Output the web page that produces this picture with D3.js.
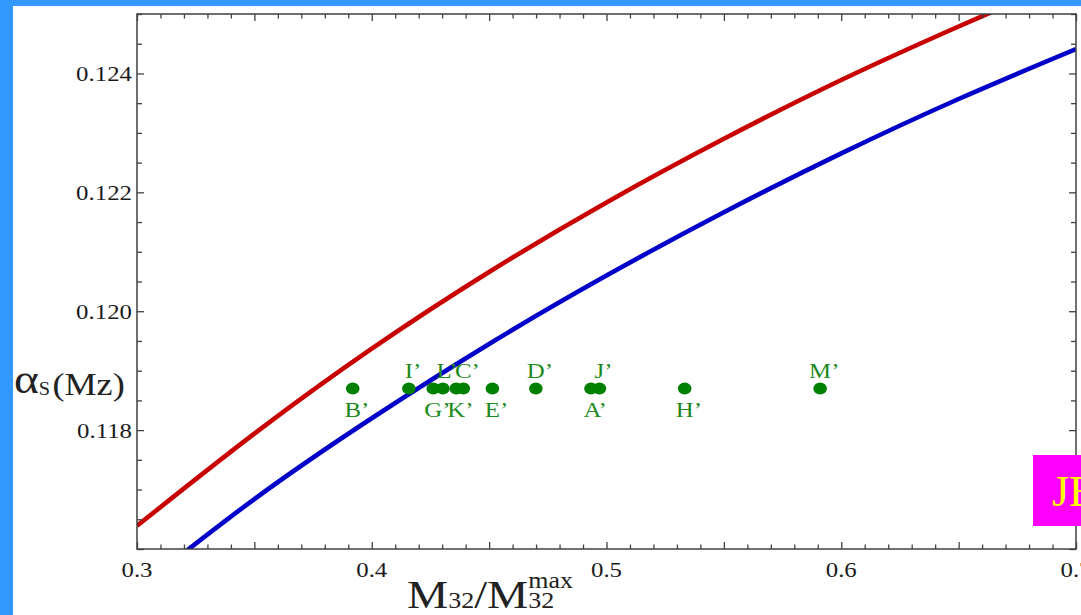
<!DOCTYPE html>
<html>
<head>
<meta charset="utf-8">
<script src="https://cdn.jsdelivr.net/npm/d3@7"></script>
<style>
  html, body { margin: 0; padding: 0; background: #fff; overflow: hidden; }
  svg { display: block; }
  text { font-family: "Liberation Serif", "Times New Roman", serif; }
</style>
</head>
<body>
<svg id="chart" width="1081" height="615"></svg>
<script>
// Curve samples: M32/M32max versus alpha_s(MZ)
const curveX = [0.30, 0.35, 0.40, 0.45, 0.50, 0.55, 0.60, 0.65, 0.70];
const redCurve = [0.11639, 0.11794, 0.11937, 0.12066, 0.12183, 0.12290, 0.12389, 0.12479, 0.12565];
const blueCurve = [0.115315, 0.11684, 0.11820, 0.11945, 0.12060, 0.121665, 0.122655, 0.12357, 0.12441];

// Benchmark points
const pointNames = ["B’", "I’", "G’", "L’", "K’", "C’", "E’", "D’", "A’", "J’", "H’", "M’"];
const pointX = [0.3919, 0.4158, 0.4262, 0.4303, 0.4360, 0.4390, 0.4514, 0.4699, 0.4934, 0.4970, 0.5333, 0.5910];
const pointY = [0.1187, 0.1187, 0.1187, 0.1187, 0.1187, 0.1187, 0.1187, 0.1187, 0.1187, 0.1187, 0.1187, 0.1187];
const labelSide = ["below", "above", "below", "above", "below", "above", "below", "above", "below", "above", "below", "above"];

// Axis ticks
const xTicks = [0.3, 0.4, 0.5, 0.6, 0.7];
const xTickLabels = ["0.3", "0.4", "0.5", "0.6", "0.7"];
const yTicks = [0.118, 0.120, 0.122, 0.124];
const yTickLabels = ["0.118", "0.120", "0.122", "0.124"];

const svg = d3.select("#chart");
const W = 1081, H = 615;
const plot = { left: 137, top: 14, right: 1076, bottom: 549 };
const SX = 1.13; // horizontal stretch applied to all serif text

const x = d3.scaleLinear().domain([0.3, 0.7]).range([plot.left, plot.right]);
const y = d3.scaleLinear().domain([0.116, 0.125]).range([plot.bottom, plot.top]);

// page frame bands
svg.append("rect").attr("x", 0).attr("y", 0).attr("width", W).attr("height", H).attr("fill", "#fff");
svg.append("rect").attr("x", 0).attr("y", 0).attr("width", W).attr("height", 6).attr("fill", "#3399ff");
svg.append("rect").attr("x", 0).attr("y", 0).attr("width", 13).attr("height", H).attr("fill", "#3399ff");

function stretchedText(parent, px, py, size, anchor, fill) {
  return parent.append("text")
    .attr("transform", `translate(${px},${py}) scale(${SX},1)`)
    .attr("font-size", size)
    .attr("text-anchor", anchor)
    .attr("fill", fill);
}

// clip for curves
svg.append("clipPath").attr("id", "plotClip")
  .append("rect")
  .attr("x", plot.left).attr("y", plot.top)
  .attr("width", plot.right - plot.left).attr("height", plot.bottom - plot.top);

const line = d3.line().curve(d3.curveNatural)
  .x(d => x(d[0])).y(d => y(d[1]));

const curves = svg.append("g").attr("clip-path", "url(#plotClip)");
curves.append("path")
  .attr("d", line(curveX.map((v, i) => [v, redCurve[i]])))
  .attr("fill", "none").attr("stroke", "#c80000").attr("stroke-width", 4.6);
curves.append("path")
  .attr("d", line(curveX.map((v, i) => [v, blueCurve[i]])))
  .attr("fill", "none").attr("stroke", "#0000c8").attr("stroke-width", 4.6);

// frame axes with inward ticks on all sides
const axisColor = "#404040";
const xMinor = d3.range(30, 71).map(v => v / 100);
const yMinor = d3.range(232, 251).map(v => v / 2000);

function styleAxis(g) {
  g.select(".domain").remove();
  g.selectAll("line").attr("stroke", axisColor).attr("stroke-width", 1.3);
  g.selectAll("text").remove();
}

const isXMajor = v => Math.abs(v * 20 - Math.round(v * 20)) < 1e-6;
const isYMajor = v => Math.abs(v * 500 - Math.round(v * 500)) < 1e-6;

[[plot.bottom, d3.axisTop], [plot.top, d3.axisBottom]].forEach(([py, ax]) => {
  const g = svg.append("g").attr("transform", `translate(0,${py})`)
    .call(ax(x).tickValues(xMinor).tickSize(0));
  g.selectAll(".tick line").attr("y2", d => {
    const len = isXMajor(d) ? 7 : 4.5;
    return ax === d3.axisTop ? -len : len;
  });
  styleAxis(g);
});
[[plot.left, d3.axisRight], [plot.right, d3.axisLeft]].forEach(([px, ax]) => {
  const g = svg.append("g").attr("transform", `translate(${px},0)`)
    .call(ax(y).tickValues(yMinor).tickSize(0));
  g.selectAll(".tick line").attr("x2", d => {
    const len = isYMajor(d) ? 7 : 5;
    return ax === d3.axisRight ? len : -len;
  });
  styleAxis(g);
});

svg.append("rect")
  .attr("x", plot.left).attr("y", plot.top)
  .attr("width", plot.right - plot.left).attr("height", plot.bottom - plot.top)
  .attr("fill", "none").attr("stroke", axisColor).attr("stroke-width", 1.5);

// tick labels
xTicks.forEach((v, i) => {
  stretchedText(svg, x(v), 577, 22, "middle", "#1a1a1a").text(xTickLabels[i]);
});
yTicks.forEach((v, i) => {
  stretchedText(svg, plot.left - 5, y(v) + 7.5, 22, "end", "#1a1a1a").text(yTickLabels[i]);
});

// axis titles
const xt = stretchedText(svg, 407, 608, 41, "start", "#222");
xt.append("tspan").text("M");
xt.append("tspan").attr("font-size", 23).text("32");
xt.append("tspan").text("/M");
const subB = xt.append("tspan").attr("font-size", 23).text("32");
// superscript stacked over the second subscript
const subStart = subB.node().getStartPositionOfChar(0).x;
xt.append("tspan").attr("font-size", 23).attr("x", subStart).attr("dy", -20).text("max");

const yt = svg.append("text")
  .attr("transform", `translate(14,395) scale(${SX},1)`)
  .attr("fill", "#222");
yt.append("tspan").attr("font-size", 42).attr("dy", -2).text("α");
yt.append("tspan").attr("font-size", 18).attr("dy", 2).text("S");
yt.append("tspan").attr("font-size", 32).attr("dx", 2).text("(Mz)");

// benchmark points
const green = "#008000";
svg.append("g").selectAll("ellipse")
  .data(pointX.map((v, i) => ({ x: v, y: pointY[i] })))
  .join("ellipse")
  .attr("cx", d => x(d.x)).attr("cy", d => y(d.y))
  .attr("rx", 6.8).attr("ry", 6)
  .attr("fill", green);

const labels = svg.append("g");
pointNames.forEach((name, i) => {
  const t = stretchedText(labels, 0, 0, 22, "start", "#1d8a1d").text(name);
  // centre the letter itself over the point; the prime hangs to the right
  const letterW = t.node().getSubStringLength(0, 1) * SX;
  const py = labelSide[i] === "above" ? y(pointY[i]) - 11 : y(pointY[i]) + 28;
  t.attr("transform", `translate(${x(pointX[i]) - letterW / 2},${py}) scale(${SX},1)`);
});

// tag box at the right edge
svg.append("rect").attr("x", 1033).attr("y", 455).attr("width", 60).attr("height", 71).attr("fill", "#ff00ff");
svg.append("text").attr("x", 1052).attr("y", 506).attr("font-size", 44)
  .attr("fill", "#ffff00").text("JE");
</script>
</body>
</html>
